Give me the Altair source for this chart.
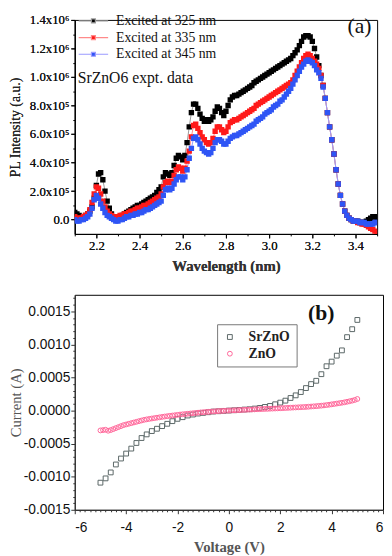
import altair as alt
import pandas as pd

# ---------------- Panel (a): PL spectra ----------------
# wavelength grid 2.10 .. 3.50, step 0.01 (141 points)
wavelength = [round(2.10 + 0.01 * i, 2) for i in range(141)]

# intensities in units of 1e5 a.u.
pl_325 = [
    0.5, 0.4, 0.3, 0.2, 0.2, 0.3, 0.4, 0.6, 0.9, 1.5,
    2.4, 3.2, 3.3, 2.8, 2.0, 1.3, 0.8, 0.4, 0.2, 0.1,
    0.1, 0.2, 0.3, 0.4, 0.5, 0.6, 0.7, 0.8, 0.9, 1.0,
    1.0, 1.1, 1.2, 1.3, 1.4, 1.5, 1.6, 1.7, 1.9, 2.1,
    2.3, 3.0, 3.3, 3.2, 3.1, 3.3, 3.8, 4.3, 4.5, 4.4,
    4.2, 4.5, 5.4, 6.5, 7.5, 8.1, 8.1, 7.8, 7.4, 7.1,
    6.9, 7.0, 6.9, 7.0, 7.2, 7.6, 7.9, 7.8, 7.5, 7.3,
    7.6, 8.0, 8.4, 8.6, 8.7, 8.7, 8.8, 8.9, 9.0, 9.1,
    9.2, 9.3, 9.4, 9.6, 9.7, 9.8, 9.9, 10.0, 10.1, 10.2,
    10.3, 10.4, 10.5, 10.6, 10.7, 10.8, 10.9, 11.0, 11.1, 11.2,
    11.3, 11.5, 11.7, 11.9, 12.2, 12.5, 12.8, 12.9, 12.9, 12.8,
    12.5, 12.0, 11.4, 10.8, 10.1, 9.4, 8.5, 7.5, 6.5, 5.6,
    4.6, 3.5, 2.5, 1.7, 1.1, 0.6, 0.3, 0.1, 0.0, -0.1,
    -0.1, -0.1, -0.2, -0.2, -0.2, -0.1, 0.0, 0.1, 0.2, 0.2,
    0.1,
]
pl_335 = [
    0.2, 0.1, 0.1, 0.1, 0.2, 0.3, 0.4, 0.7, 1.2, 1.8,
    2.3, 2.2, 1.8, 1.3, 0.9, 0.6, 0.4, 0.3, 0.2, 0.2,
    0.2, 0.3, 0.3, 0.4, 0.4, 0.5, 0.6, 0.6, 0.7, 0.8,
    0.8, 0.9, 1.0, 1.0, 1.1, 1.2, 1.3, 1.4, 1.5, 1.6,
    1.8, 2.3, 2.6, 2.7, 2.6, 2.7, 3.1, 3.5, 3.7, 3.6,
    3.4, 3.6, 4.1, 4.8, 5.8, 6.6, 6.7, 6.4, 6.1, 5.8,
    5.6, 5.4, 5.3, 5.4, 5.7, 6.2, 6.5, 6.5, 6.3, 6.1,
    6.2, 6.5, 6.8, 6.9, 7.0, 7.0, 7.1, 7.2, 7.3, 7.4,
    7.5, 7.6, 7.7, 7.8, 8.0, 8.1, 8.2, 8.3, 8.4, 8.5,
    8.6, 8.7, 8.8, 8.9, 9.0, 9.1, 9.2, 9.3, 9.4, 9.5,
    9.6, 9.8, 10.1, 10.4, 10.7, 11.0, 11.3, 11.5, 11.6, 11.5,
    11.3, 11.1, 10.9, 10.6, 10.1, 9.4, 8.5, 7.5, 6.5, 5.6,
    4.6, 3.5, 2.5, 1.7, 1.1, 0.6, 0.3, 0.1, 0.0, -0.1,
    -0.1, -0.2, -0.2, -0.3, -0.3, -0.4, -0.5, -0.6, -0.7, -0.8,
    -0.9,
]
pl_345 = [
    0.0, -0.1, -0.1, 0.0, 0.0, 0.1, 0.2, 0.4, 0.8, 1.4,
    1.7, 1.5, 1.1, 0.8, 0.5, 0.3, 0.2, 0.1, 0.0, -0.1,
    -0.1, 0.0, 0.0, 0.1, 0.2, 0.2, 0.3, 0.3, 0.4, 0.4,
    0.5, 0.5, 0.6, 0.7, 0.7, 0.8, 0.9, 1.0, 1.1, 1.2,
    1.3, 1.7, 2.1, 2.2, 2.1, 2.2, 2.5, 2.8, 3.0, 3.0,
    2.8, 3.0, 3.5, 4.3, 5.0, 5.7, 5.8, 5.6, 5.3, 5.0,
    4.8, 4.7, 4.6, 4.7, 5.0, 5.4, 5.6, 5.6, 5.5, 5.3,
    5.3, 5.5, 5.7, 5.8, 5.9, 5.9, 6.0, 6.1, 6.2, 6.3,
    6.4, 6.5, 6.6, 6.7, 6.9, 7.0, 7.1, 7.2, 7.4, 7.5,
    7.6, 7.7, 7.9, 8.0, 8.1, 8.3, 8.4, 8.6, 8.8, 9.0,
    9.2, 9.5, 9.8, 10.1, 10.4, 10.7, 10.9, 11.1, 11.2, 11.1,
    11.0, 10.8, 10.5, 10.3, 9.9, 9.3, 8.5, 7.5, 6.5, 5.6,
    4.6, 3.5, 2.5, 1.7, 1.1, 0.6, 0.3, 0.1, 0.0, -0.1,
    -0.1, -0.1, -0.2, -0.2, -0.2, -0.3, -0.3, -0.3, -0.3, -0.2,
    -0.2,
]
pl_names = ["Excited at 325 nm", "Excited at 335 nm", "Excited at 345 nm"]
pl_marker_colors = ["#000000", "#ff1a1a", "#2f55f5"]
pl_line_colors = ["#999999", "#ff8a8a", "#9a9aff"]
pl_yticks = [0, 2e5, 4e5, 6e5, 8e5, 1e6, 1.2e6, 1.4e6]
pl_yminor = [1e5, 3e5, 5e5, 7e5, 9e5, 1.1e6, 1.3e6]
pl_xticks = [2.2, 2.4, 2.6, 2.8, 3.0, 3.2, 3.4]
pl_xminor = [2.1, 2.3, 2.5, 2.7, 2.9, 3.1, 3.3, 3.5]

# ---------------- Panel (b): I-V curves ----------------
v_srzno = [round(-5.0 + 0.2 * i, 1) for i in range(51)]
# current in units of 1e-5 A
i_srzno = [
    -109, -102.5, -93.5, -81.5, -72.5, -65, -57.5, -49, -41.5, -36,
    -31, -27.5, -23.5, -20, -16, -12.5, -10, -7.5, -6, -4.5,
    -3.5, -2.5, -1.5, -1, -0.5, 0, 0.5, 1, 1.5, 2,
    3, 4, 5.5, 7, 9.5, 12, 15, 19, 23, 28,
    34, 40, 45, 55, 67, 74, 83, 91, 111, 123,
    137,
]
v_zno = [round(-5.0 + 0.1 * i, 1) for i in range(101)]
i_zno = [
    -30, -29.5, -29, -30.5, -29.5, -28, -26.5, -25, -23.5, -22,
    -21, -20, -19, -18, -17, -16, -15, -14, -13.3, -12.6,
    -12, -11.4, -10.8, -10.2, -9.6, -9, -8.5, -8, -7.5, -7,
    -6.5, -6, -5.6, -5.2, -4.8, -4.4, -4, -3.6, -3.2, -2.8,
    -2.5, -2.2, -1.9, -1.6, -1.3, -1.0, -0.8, -0.6, -0.4, -0.2,
    0, 0.2, 0.4, 0.5, 0.7, 0.9, 1.1, 1.3, 1.5, 1.6,
    1.8, 2.0, 2.1, 2.3, 2.5, 2.6, 2.8, 3.0, 3.1, 3.3,
    3.5, 3.7, 3.9, 4.1, 4.3, 4.5, 4.7, 4.9, 5.1, 5.3,
    5.5, 5.8, 6.1, 6.4, 6.7, 7.0, 7.4, 7.8, 8.3, 8.8,
    9.4, 10.0, 10.6, 11.2, 11.8, 12.5, 13.3, 14.1, 15.0, 16.0,
    17.5,
]
iv_names = ["SrZnO", "ZnO"]
iv_colors = ["#5a6666", "#ff6699"]
iv_shapes = ["square", "circle"]
iv_yticks = [-0.0015, -0.001, -0.0005, 0.0, 0.0005, 0.001, 0.0015]
iv_xticks = [-6, -4, -2, 0, 2, 4, 6]
iv_xminor = [round(-6 + 0.2 * i, 1) for i in range(61) if i % 10 != 0]
iv_yminor = [round(-0.0015 + 0.0001 * i, 4) for i in range(33) if i % 5 != 0]

# ---------------- tables ----------------
rows = []
for name, vals in zip(pl_names, [pl_325, pl_335, pl_345]):
    for w, v in zip(wavelength, vals):
        rows.append({"wl": w, "I": v * 1e5, "series": name})
df_pl = pd.DataFrame(rows)

rows = []
for v, c in zip(v_srzno, i_srzno):
    rows.append({"V": v, "A": c * 1e-5, "sample": "SrZnO"})
for v, c in zip(v_zno, i_zno):
    rows.append({"V": v, "A": c * 1e-5, "sample": "ZnO"})
df_iv = pd.DataFrame(rows)

one_row = pd.DataFrame({"k": [0]})

SERIF = "Liberation Serif"
SANS = "Liberation Sans"


def minor_axis(vals, orient, color="black", size=2):
    return alt.Axis(
        values=vals, orient=orient, labels=False, domain=False, grid=False,
        title=None, tickSize=size, tickColor=color, tickWidth=1,
    )


# ---------------- chart (a) ----------------
pl_xscale = alt.Scale(domain=[2.1, 3.5], nice=False, zero=False)
pl_yscale = alt.Scale(domain=[-1e5, 1.4e6], nice=False, zero=False)

x_pl = alt.X(
    "wl:Q", scale=pl_xscale,
    axis=alt.Axis(
        values=pl_xticks, format=".1f", title="Wavelength (nm)", orient="bottom",
        labelFont=SERIF, labelFontSize=13, labelColor="#111",
        titleFont=SERIF, titleFontSize=15, titleFontWeight="bold", titleColor="#333",
        tickSize=4, labelPadding=2, titlePadding=6, grid=False,
        domainColor="black", tickColor="black",
    ),
)
y_pl = alt.Y(
    "I:Q", scale=pl_yscale,
    axis=alt.Axis(
        values=pl_yticks, orient="left",
        labelExpr="datum.value == 0 ? '0.0' : (datum.value >= 999999 ? format(datum.value/1e6, '.1f') + 'x10⁶' : format(datum.value/1e5, '.1f') + 'x10⁵')",
        title="PL Intensity (a.u.)",
        labelFont=SERIF, labelFontSize=13, labelColor="#111",
        titleFont=SERIF, titleFontSize=14, titleFontWeight="normal", titleColor="#222",
        tickSize=4, labelPadding=2, titlePadding=7, grid=False,
        domainColor="black", tickColor="black",
    ),
)

legend_path = "M-3.75,0H-0.5M0.5,0H3.75M-0.5,-0.5H0.5V0.5H-0.5Z"


def pl_legend():
    return alt.Legend(
        orient="none", legendX=12, legendY=-6, title=None, padding=0,
        symbolType=legend_path, symbolSize=64, symbolStrokeWidth=1.2,
        labelFont=SERIF, labelFontSize=14, labelColor="#111", labelOffset=16,
        rowPadding=3,
    )


pl_lines = alt.Chart(df_pl).mark_line(strokeWidth=1, clip=True).encode(
    x=x_pl, y=y_pl,
    stroke=alt.Stroke("series:N", scale=alt.Scale(domain=pl_names, range=pl_line_colors), legend=pl_legend(), title=None),
)
pl_points = alt.Chart(df_pl).mark_point(shape="square", filled=True, size=30, opacity=1, clip=True).encode(
    x=x_pl, y=y_pl,
    fill=alt.Fill("series:N", scale=alt.Scale(domain=pl_names, range=pl_marker_colors), legend=pl_legend(), title=None),
)
pl_minor = alt.Chart(df_pl).mark_point(opacity=0).encode(
    x=alt.X("wl:Q", scale=pl_xscale, axis=minor_axis(pl_xminor, "bottom")),
    y=alt.Y("I:Q", scale=pl_yscale, axis=minor_axis(pl_yminor, "left")),
)
txt_a = alt.Chart(one_row).mark_text(text="(a)", font=SERIF, fontSize=22, align="center", baseline="middle", color="#111").encode(
    x=alt.value(290), y=alt.value(6)
)
txt_expt = alt.Chart(one_row).mark_text(text="SrZnO6 expt. data", font=SERIF, fontSize=16, align="left", baseline="middle", color="#111").encode(
    x=alt.value(3), y=alt.value(59)
)
chart_a = alt.layer(pl_lines, pl_points, pl_minor, txt_a, txt_expt).resolve_axis(
    x="independent", y="independent"
).properties(width=308, height=218)

# ---------------- chart (b) ----------------
iv_xscale = alt.Scale(domain=[-6, 6], nice=False, zero=False)
iv_yscale = alt.Scale(domain=[-0.0015, 0.00175], nice=False, zero=False)
x_iv = alt.X(
    "V:Q", scale=iv_xscale,
    axis=alt.Axis(
        values=iv_xticks, orient="bottom",
        labelExpr="(datum.value < 0 ? '-' : '') + abs(datum.value)",
        title="Voltage (V)",
        labelFont=SANS, labelFontSize=14, labelColor="#111",
        titleFont=SERIF, titleFontSize=15, titleFontWeight="bold", titleColor="#555",
        tickSize=4, labelPadding=7, titlePadding=5, grid=False,
        domainColor="#333", tickColor="#333",
    ),
)
y_iv = alt.Y(
    "A:Q", scale=iv_yscale,
    axis=alt.Axis(
        values=iv_yticks, orient="left",
        labelExpr="(datum.value < 0 ? '-' : '') + format(abs(datum.value), '.4f')",
        title="Current (A)",
        labelFont=SANS, labelFontSize=14, labelColor="#111",
        titleFont=SERIF, titleFontSize=15, titleFontWeight="normal", titleColor="#555",
        tickSize=4, labelPadding=1, titlePadding=0, grid=False,
        domainColor="#333", tickColor="#333",
    ),
)
iv_points = alt.Chart(df_iv).mark_point(filled=False, size=24, strokeWidth=1, opacity=1).encode(
    x=x_iv, y=y_iv,
    color=alt.Color(
        "sample:N",
        scale=alt.Scale(domain=iv_names, range=iv_colors),
        legend=alt.Legend(
            orient="none", legendX=145, legendY=30, title=None,
            strokeColor="#777", padding=6, symbolSize=24, symbolStrokeWidth=1,
            labelFont=SERIF, labelFontSize=14, labelFontWeight="bold", labelColor="#222",
            labelOffset=12, rowPadding=3,
        ),
    ),
    shape=alt.Shape("sample:N", scale=alt.Scale(domain=iv_names, range=iv_shapes)),
)
iv_minor = alt.Chart(df_iv).mark_point(opacity=0).encode(
    x=alt.X("V:Q", scale=iv_xscale, axis=minor_axis(iv_xminor, "bottom", "#333")),
    y=alt.Y("A:Q", scale=iv_yscale, axis=minor_axis(iv_yminor, "left", "#333")),
)
txt_b = alt.Chart(one_row).mark_text(text="(b)", font=SERIF, fontSize=22, fontWeight="bold", align="center", baseline="middle", color="#111").encode(
    x=alt.value(251), y=alt.value(19)
)
chart_b = alt.layer(iv_points, iv_minor, txt_b).resolve_axis(
    x="independent", y="independent"
).properties(width=314, height=219)

chart = alt.vconcat(chart_a, chart_b, spacing=20).resolve_scale(
    x="independent", y="independent", color="independent", fill="independent", stroke="independent", shape="independent"
).configure_view(
    stroke="black", strokeWidth=1
).properties(padding=0, background="white")

chart.save("out.html", embed_options={"renderer": "svg", "actions": False})
